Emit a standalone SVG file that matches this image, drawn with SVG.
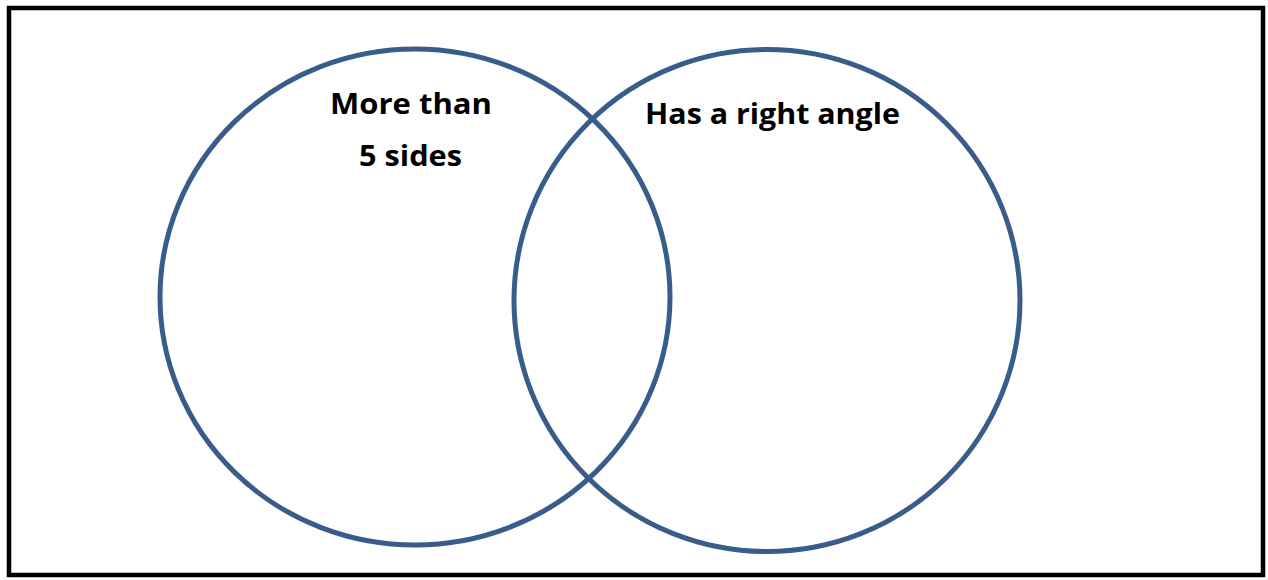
<svg xmlns="http://www.w3.org/2000/svg" width="1268" height="580" viewBox="0 0 1268 580">
<style>
.set{fill:none;stroke:#385D8A;stroke-width:5}
.lbl{font-family:"Open Sans","Noto Sans","Liberation Sans",sans-serif;font-weight:bold;font-size:29px;fill:#000}
</style>
<rect x="0" y="0" width="1268" height="580" fill="#fff"/>
<rect id="frame" x="9" y="8" width="1254" height="567" fill="none" stroke="#000" stroke-width="4.5"/>
<g id="set-left">
<ellipse class="set" cx="415" cy="297" rx="255" ry="248"/>
<text class="lbl" x="411" y="114" text-anchor="middle" textLength="162" lengthAdjust="spacingAndGlyphs">More than</text>
<text class="lbl" x="410.5" y="166" text-anchor="middle" textLength="103" lengthAdjust="spacingAndGlyphs">5 sides</text>
</g>
<g id="set-right">
<ellipse class="set" cx="767" cy="300.5" rx="253" ry="251"/>
<text class="lbl" x="772.5" y="124" text-anchor="middle" textLength="255" lengthAdjust="spacingAndGlyphs">Has a right angle</text>
</g>
<g id="connectors"></g>
</svg>
